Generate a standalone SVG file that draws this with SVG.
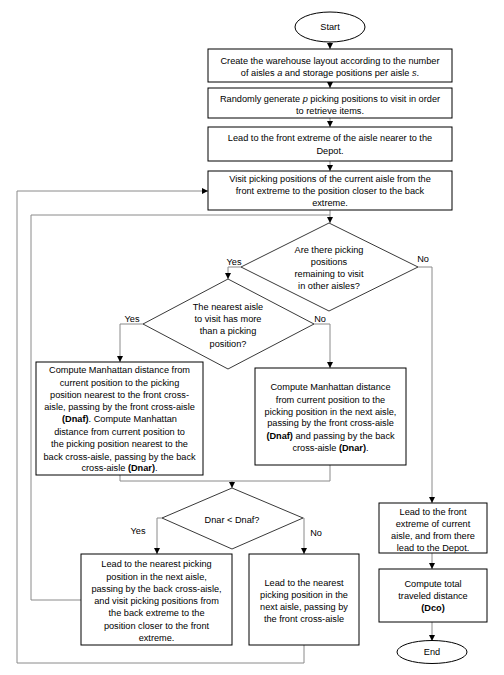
<svg xmlns="http://www.w3.org/2000/svg" width="504" height="675" viewBox="0 0 504 675">
<defs>
<style>
.n{fill:#fff;stroke:#000;stroke-width:1}
.d{fill:#fff;stroke:#222;stroke-width:0.9}
.c{fill:none;stroke:#8a8a8a;stroke-width:1}
.a{fill:none;stroke:#8a8a8a;stroke-width:1;marker-end:url(#ah)}
text{font-family:"Liberation Sans",Arial,sans-serif;font-size:9.2px;fill:#000;text-anchor:middle}
.b{font-weight:bold}
.i{font-style:italic}
</style>
<marker id="ah" viewBox="0 0 6 6" refX="6" refY="3" markerWidth="6" markerHeight="6" markerUnits="userSpaceOnUse" orient="auto">
<path d="M0,0 L6,3 L0,6 Z" fill="#000"/>
</marker>
</defs>
<rect width="504" height="675" fill="#fff"/>
<g id="connectors">
<path class="a" d="M330,42 V49"/>
<path class="a" d="M330,82 V88"/>
<path class="a" d="M330,118 V127"/>
<path class="a" d="M330,161 V171"/>
<path class="a" d="M330,210 V223"/>
<path class="a" d="M241,267 H228 V279"/>
<path class="a" d="M418,267 H432 V503"/>
<path class="a" d="M143,324 H120 V362"/>
<path class="a" d="M314,324 H330 V368"/>
<path class="c" d="M120,475 V481 H330 V465"/>
<path class="a" d="M232,481 V488"/>
<path class="a" d="M162,518 H157 V554"/>
<path class="a" d="M303,518 H304 V554"/>
<path class="c" d="M81,600 H31 V215 H330"/>
<path class="a" d="M304,645 V663 H17 V191 H208"/>
<path class="a" d="M432,553 V569"/>
<path class="a" d="M432,622 V641"/>
</g>
<g id="start">
<ellipse class="n" cx="330" cy="27" rx="35" ry="15"/>
<text x="330" y="30">Start</text>
</g>
<g id="layout">
<rect class="n" x="208" y="49" width="244" height="33"/>
<text x="330" y="64">Create the warehouse layout according to the number</text>
<text x="330" y="76">of aisles <tspan class="i">a</tspan> and storage positions per aisle <tspan class="i">s</tspan>.</text>
</g>
<g id="generate">
<rect class="n" x="208" y="88" width="244" height="30"/>
<text x="330" y="102">Randomly generate <tspan class="i">p</tspan> picking positions to visit in order</text>
<text x="330" y="114">to retrieve items.</text>
</g>
<g id="lead-front">
<rect class="n" x="208" y="127" width="244" height="34"/>
<text x="330" y="141">Lead to the front extreme of the aisle nearer to the</text>
<text x="330" y="154">Depot.</text>
</g>
<g id="visit">
<rect class="n" x="208" y="171" width="244" height="39"/>
<text x="330" y="182">Visit picking positions of the current aisle from the</text>
<text x="330" y="194">front extreme to the position closer to the back</text>
<text x="330" y="206">extreme.</text>
</g>
<g id="decision-remaining">
<polygon class="d" points="329,223 418,267 329,311 241,267"/>
<text x="329" y="253">Are there picking</text>
<text x="329" y="265">positions</text>
<text x="329" y="277">remaining to visit</text>
<text x="329" y="289">in other aisles?</text>
<text x="234" y="265">Yes</text>
<text x="423" y="262">No</text>
</g>
<g id="decision-more">
<polygon class="d" points="228,279 314,324 228,369 143,324"/>
<text x="228" y="310">The nearest aisle</text>
<text x="228" y="322">to visit has more</text>
<text x="228" y="334">than a picking</text>
<text x="228" y="347">position?</text>
<text x="132" y="322">Yes</text>
<text x="320" y="322">No</text>
</g>
<g id="compute-two">
<rect class="n" x="36" y="362" width="167" height="113"/>
<text x="119.5" y="373">Compute Manhattan distance from</text>
<text x="119.5" y="386">current position to the picking</text>
<text x="119.5" y="398">position nearest to the front cross-</text>
<text x="119.5" y="410">aisle, passing by the front cross-aisle</text>
<text x="119.5" y="422"><tspan class="b">(Dnaf)</tspan>. Compute Manhattan</text>
<text x="119.5" y="435">distance from current position to</text>
<text x="119.5" y="447">the picking position nearest to the</text>
<text x="119.5" y="460">back cross-aisle, passing by the back</text>
<text x="119.5" y="471">cross-aisle <tspan class="b">(Dnar)</tspan>.</text>
</g>
<g id="compute-next">
<rect class="n" x="255" y="368" width="151" height="97"/>
<text x="330.5" y="390">Compute Manhattan distance</text>
<text x="330.5" y="403">from current position to the</text>
<text x="330.5" y="415">picking position in the next aisle,</text>
<text x="330.5" y="426">passing by the front cross-aisle</text>
<text x="330.5" y="439"><tspan class="b">(Dnaf)</tspan> and passing by the back</text>
<text x="330.5" y="451">cross-aisle <tspan class="b">(Dnar)</tspan>.</text>
</g>
<g id="decision-compare">
<polygon class="d" points="232,488 303,518 232,549 162,518"/>
<text x="232" y="523">Dnar &lt; Dnaf?</text>
<text x="138" y="534">Yes</text>
<text x="316" y="536">No</text>
</g>
<g id="lead-back">
<rect class="n" x="81" y="554" width="151" height="91"/>
<text x="156.5" y="567">Lead to the nearest picking</text>
<text x="156.5" y="580">position in the next aisle,</text>
<text x="156.5" y="592">passing by the back cross-aisle,</text>
<text x="156.5" y="604">and visit picking positions from</text>
<text x="156.5" y="616">the back extreme to the</text>
<text x="156.5" y="629">position closer to the front</text>
<text x="156.5" y="641">extreme.</text>
</g>
<g id="lead-front-next">
<rect class="n" x="249" y="554" width="110" height="91"/>
<text x="304" y="586">Lead to the nearest</text>
<text x="304" y="598">picking position in the</text>
<text x="304" y="610">next aisle, passing by</text>
<text x="304" y="622">the front cross-aisle</text>
</g>
<g id="lead-depot">
<rect class="n" x="379" y="503" width="108" height="50"/>
<text x="433" y="515">Lead to the front</text>
<text x="433" y="527">extreme of current</text>
<text x="433" y="539">aisle, and from there</text>
<text x="433" y="551">lead to the Depot.</text>
</g>
<g id="total">
<rect class="n" x="379" y="569" width="108" height="53"/>
<text x="433" y="587">Compute total</text>
<text x="433" y="599">traveled distance</text>
<text x="433" y="611" class="b">(Dco)</text>
</g>
<g id="end">
<ellipse class="n" cx="432" cy="652" rx="35" ry="11.5"/>
<text x="432" y="655">End</text>
</g>
</svg>
